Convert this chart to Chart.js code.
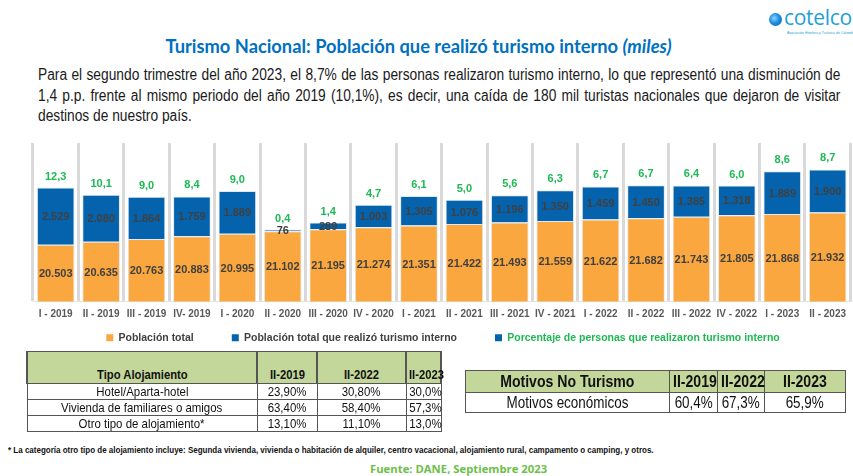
<!DOCTYPE html>
<html>
<head>
<meta charset="utf-8">
<script src="https://cdn.jsdelivr.net/npm/chart.js@4"></script>
<style>
  body { margin: 0; width: 853px; height: 476px; background: #fff; position: relative; overflow: hidden; font-family: "Liberation Sans", Arial, sans-serif; }
  .n { display: inline-block; white-space: nowrap; transform: scaleX(0.86); transform-origin: center; }
  #title { position: absolute; left: 0; width: 837px; top: 35px; text-align: center; font-family: Lato, "Open Sans", sans-serif; font-weight: 700; font-size: 18.3px; color: #0070C0; }
  #intro { position: absolute; left: 38px; top: 65px; width: 933px; transform: scaleX(0.86); transform-origin: left top; font-size: 16px; line-height: 20.5px; color: #1a1a1a; }
  #intro div { text-align: justify; text-align-last: justify; white-space: nowrap; }
  #intro div.last { text-align-last: left; }
  #logo-dot { position: absolute; left: 769px; top: 13px; width: 13px; height: 13px; border-radius: 50%; background: radial-gradient(circle at 40% 40%, #8fd3ff 0%, #1c8fe0 45%, #0a5fb0 100%); }
  #logo-text { position: absolute; left: 784px; top: 3px; font-family: "Open Sans", sans-serif; font-size: 21px; color: #1E9FD8; letter-spacing: -0.3px; }
  #logo-sub { position: absolute; left: 787px; top: 31px; font-size: 3.5px; color: #1E9FD8; white-space: nowrap; }
  #chartBox { position: absolute; left: 0; top: 130px; width: 853px; height: 256px; }
  table { border-collapse: collapse; position: absolute; table-layout: fixed; }
  td, th { border: 1px solid #555; padding: 0; text-align: center; white-space: nowrap; overflow: visible; }
  #tAloj { left: 26px; top: 351px; width: 416px; color: #111; }
  #tAloj th { background: #C4D79B; height: 31px; vertical-align: bottom; font-size: 12.5px; line-height: 15px; border-left: 2px solid #555; border-right: 2px solid #555; }
  #tAloj th .n { transform: scaleX(0.9); }
  #tAloj td { height: 15px; line-height: 15px; font-size: 13px; }
  #tAloj td .n { transform: scaleX(0.88); }
  #tMot { left: 465px; top: 370px; width: 381px; color: #111; }
  #tMot th { background: #C4D79B; height: 21px; line-height: 21px; font-size: 16px; }
  #tMot th .n { transform: scaleX(0.88); }
  #tMot td { height: 19px; line-height: 19px; font-size: 16px; }
  #tMot td .n { transform: scaleX(0.84); }
  #nota { position: absolute; left: 8px; top: 445px; font-size: 9.3px; font-weight: 700; color: #111; white-space: nowrap; transform: scaleX(0.86); transform-origin: left top; }
  #fuente { position: absolute; left: 370px; top: 461px; font-family: "Open Sans", sans-serif; font-weight: 700; font-size: 11.3px; color: #6CC04A; }
</style>
</head>
<body>
<div id="logo-dot"></div>
<div id="logo-text">cotelco</div>
<div id="logo-sub">Asociación Hotelera y Turística de Colombia</div>
<div id="title">Turismo Nacional: Población que realizó turismo interno <i>(miles)</i></div>
<div id="intro">
  <div>Para el segundo trimestre del año 2023, el 8,7% de las personas realizaron turismo interno, lo que representó una disminución de</div>
  <div>1,4 p.p. frente al mismo periodo del año 2019 (10,1%), es decir, una caída de 180 mil turistas nacionales que dejaron de visitar</div>
  <div class="last">destinos de nuestro país.</div>
</div>
<div id="chartBox"><canvas id="turismoChart" width="853" height="256"></canvas></div>

<table id="tAloj">
  <tr><th style="width:228px"><span class="n">Tipo Alojamiento</span></th><th style="width:58px"><span class="n">II-2019</span></th><th style="width:87px"><span class="n">II-2022</span></th><th><span class="n">II-2023</span></th></tr>
  <tr><td><span class="n">Hotel/Aparta-hotel</span></td><td><span class="n">23,90%</span></td><td><span class="n">30,80%</span></td><td><span class="n">30,0%</span></td></tr>
  <tr><td><span class="n">Vivienda de familiares o amigos</span></td><td><span class="n">63,40%</span></td><td><span class="n">58,40%</span></td><td><span class="n">57,3%</span></td></tr>
  <tr><td><span class="n">Otro tipo de alojamiento*</span></td><td><span class="n">13,10%</span></td><td><span class="n">11,10%</span></td><td><span class="n">13,0%</span></td></tr>
</table>

<table id="tMot">
  <tr><th style="width:203px"><span class="n">Motivos No Turismo</span></th><th style="width:47px"><span class="n">II-2019</span></th><th style="width:46px"><span class="n">II-2022</span></th><th><span class="n">II-2023</span></th></tr>
  <tr><td><span class="n">Motivos económicos</span></td><td><span class="n">60,4%</span></td><td><span class="n">67,3%</span></td><td><span class="n">65,9%</span></td></tr>
</table>

<div id="nota">* La categoría otro tipo de alojamiento incluye: Segunda vivienda, vivienda o habitación de alquiler, centro vacacional, alojamiento rural, campamento o camping, y otros.</div>
<div id="fuente">Fuente: DANE, Septiembre 2023</div>

<script>
const trimestres = ["I - 2019", "II - 2019", "III - 2019", "IV- 2019", "I - 2020", "II - 2020", "III - 2020", "IV - 2020", "I - 2021", "II - 2021", "III - 2021", "IV - 2021", "I - 2022", "II - 2022", "III - 2022", "IV - 2022", "I - 2023", "II - 2023"];
const poblacionTotal = [20503, 20635, 20763, 20883, 20995, 21102, 21195, 21274, 21351, 21422, 21493, 21559, 21622, 21682, 21743, 21805, 21868, 21932];
const turismoInterno = [2529, 2080, 1864, 1759, 1889, 76, 289, 1003, 1305, 1076, 1196, 1350, 1459, 1450, 1385, 1318, 1889, 1900];
const pctTurismo = [12.3, 10.1, 9.0, 8.4, 9.0, 0.4, 1.4, 4.7, 6.1, 5.0, 5.6, 6.3, 6.7, 6.7, 6.4, 6.0, 8.6, 8.7];

const naranja = '#FBA73F';
const azul = '#0563AE';
const verde = '#1DB954';

function miles(v) {
  return String(v).replace(/\B(?=(\d{3})+(?!\d))/g, '.');
}

// valores dentro de las barras y porcentaje encima
const etiquetas = {
  id: 'etiquetas',
  afterDatasetsDraw(chart) {
    const ctx = chart.ctx;
    const area = chart.chartArea;
    const metaTotal = chart.getDatasetMeta(0);
    const metaTur = chart.getDatasetMeta(1);
    ctx.save();
    ctx.textAlign = 'center';
    ctx.textBaseline = 'middle';
    ctx.font = 'bold 11px "Liberation Sans", Arial';
    ctx.fillStyle = '#404040';
    metaTotal.data.forEach((bar, i) => {
      const top = Math.max(bar.y, area.top);
      const bottom = Math.min(bar.base, area.bottom);
      ctx.fillText(miles(poblacionTotal[i]), bar.x, (top + bottom) / 2 + 1);
    });
    metaTur.data.forEach((bar, i) => {
      ctx.fillStyle = '#404040';
      ctx.fillText(miles(turismoInterno[i]), bar.x, (bar.y + bar.base) / 2 + 1);
      ctx.fillStyle = verde;
      ctx.fillText(pctTurismo[i].toFixed(1).replace('.', ','), bar.x, bar.y - 11);
    });
    ctx.restore();
  }
};

// la leyenda va pegada a las etiquetas del eje, aunque el padding horizontal sea grande
const subirLeyenda = {
  id: 'subirLeyenda',
  afterLayout(chart) {
    const lg = chart.legend;
    const d = lg.top - (chart.chartArea.bottom + 18) + 25;
    lg.top -= d;
    lg.bottom -= d;
  }
};

Chart.defaults.font.family = '"Liberation Sans", Arial, sans-serif';

new Chart(document.getElementById('turismoChart'), {
  type: 'bar',
  data: {
    labels: trimestres,
    datasets: [
      {
        label: 'Población total',
        data: poblacionTotal,
        backgroundColor: naranja,
        borderColor: '#dfe9f3',
        borderWidth: 1,
        barPercentage: 0.83,
        categoryPercentage: 1
      },
      {
        label: 'Población total que realizó turismo interno',
        data: turismoInterno,
        backgroundColor: azul,
        borderColor: '#dfe9f3',
        borderWidth: 1,
        barPercentage: 0.83,
        categoryPercentage: 1
      },
      {
        type: 'line',
        label: 'Porcentaje de personas que realizaron turismo interno',
        data: pctTurismo,
        yAxisID: 'yPct',
        showLine: false,
        pointRadius: 0,
        backgroundColor: azul,
        borderColor: azul
      }
    ]
  },
  options: {
    responsive: false,
    animation: false,
    devicePixelRatio: 1,
    layout: { padding: { left: 33, right: 0, top: 13, bottom: 0 } },
    scales: {
      x: {
        stacked: true,
        grid: { color: '#d9d9d9', lineWidth: 3, drawTicks: false, offset: true },
        border: { display: true, color: '#e3e3e3', width: 1 },
        ticks: { color: '#595959', font: { size: 10, weight: 'bold' }, padding: 7, maxRotation: 0, autoSkip: false }
      },
      y: { stacked: true, display: false, min: 18000, max: 25000 },
      yPct: { display: false, min: 0, max: 20 }
    },
    plugins: {
      tooltip: { enabled: false },
      legend: {
        position: 'bottom',
        labels: {
          boxWidth: 7,
          boxHeight: 7,
          padding: 38,
          color: '#404040',
          font: { size: 10.5, weight: 'bold' },
          generateLabels: function(chart) {
            const items = Chart.defaults.plugins.legend.labels.generateLabels(chart);
            items.forEach(function(it, i) {
              it.lineWidth = 0;
              it.strokeStyle = 'transparent';
              if (i === 2) {
                it.fillStyle = azul;
                it.fontColor = verde;
              }
            });
            return items;
          }
        }
      }
    }
  },
  plugins: [etiquetas, subirLeyenda]
});
</script>
</body>
</html>
